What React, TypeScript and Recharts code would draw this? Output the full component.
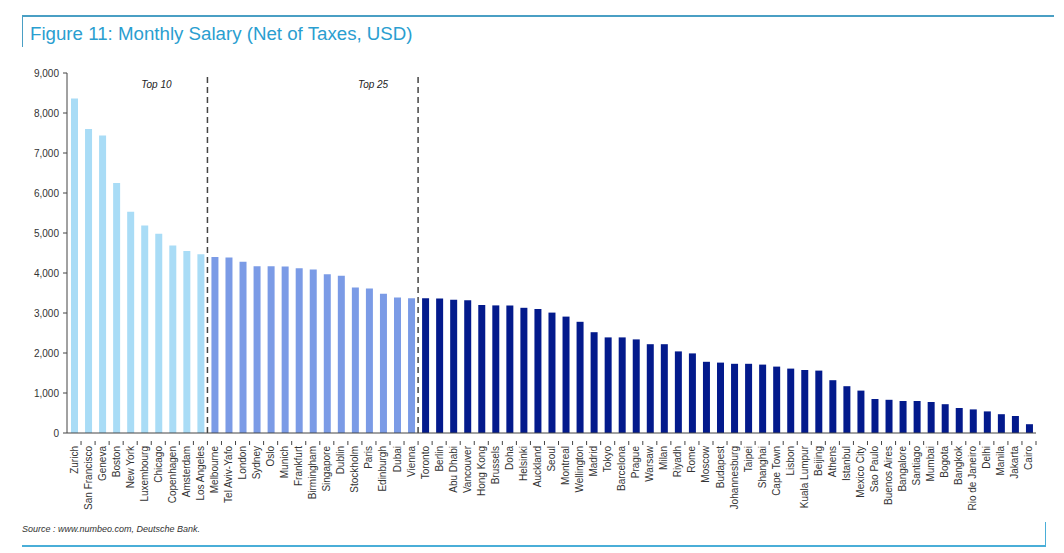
import React from "react";
import { BarChart, Bar, XAxis, YAxis, ReferenceLine, Cell } from "recharts";

const top10Cities = ["Zurich", "San Francisco", "Geneva", "Boston", "New York", "Luxembourg", "Chicago", "Copenhagen", "Amsterdam", "Los Angeles"];
const top10Values = [8360, 7600, 7440, 6250, 5530, 5190, 4980, 4690, 4550, 4470];

const top25Cities = ["Melbourne", "Tel Aviv-Yafo", "London", "Sydney", "Oslo", "Munich", "Frankfurt", "Birmingham", "Singapore", "Dublin", "Stockholm", "Paris", "Edinburgh", "Dubai", "Vienna"];
const top25Values = [4400, 4390, 4280, 4170, 4170, 4160, 4120, 4090, 3970, 3930, 3640, 3610, 3480, 3390, 3370];

const otherCities = ["Toronto", "Berlin", "Abu Dhabi", "Vancouver", "Hong Kong", "Brussels", "Doha", "Helsinki", "Auckland", "Seoul", "Montreal", "Wellington", "Madrid", "Tokyo", "Barcelona", "Prague", "Warsaw", "Milan", "Riyadh", "Rome", "Moscow", "Budapest", "Johannesburg", "Taipei", "Shanghai", "Cape Town", "Lisbon", "Kuala Lumpur", "Beijing", "Athens", "Istanbul", "Mexico City", "Sao Paulo", "Buenos Aires", "Bangalore", "Santiago", "Mumbai", "Bogota", "Bangkok", "Rio de Janeiro", "Delhi", "Manila", "Jakarta", "Cairo"];
const otherValues = [3370, 3360, 3330, 3320, 3200, 3190, 3190, 3130, 3100, 3010, 2910, 2780, 2520, 2390, 2390, 2340, 2220, 2220, 2040, 1990, 1780, 1760, 1730, 1730, 1710, 1660, 1610, 1575, 1560, 1320, 1170, 1060, 850, 830, 800, 800, 775, 720, 625, 590, 540, 470, 425, 220];

const yTicks = [0, 1000, 2000, 3000, 4000, 5000, 6000, 7000, 8000, 9000];
const groupColors = ["#a9dcf6", "#7b9be6", "#031a8c"];

const data = [
  ...top10Cities.map((c, i) => ({ city: c, value: top10Values[i], group: 0 })),
  ...top25Cities.map((c, i) => ({ city: c, value: top25Values[i], group: 1 })),
  ...otherCities.map((c, i) => ({ city: c, value: otherValues[i], group: 2 })),
];

const CHART_W = 1064;
const CHART_H = 553;
const MARGIN = { top: 73, right: 28, left: 0, bottom: 25 };
const Y_W = 67;
const PLOT_W = CHART_W - MARGIN.right - MARGIN.left - Y_W;
const HALF_BAND = PLOT_W / data.length / 2;
const FONT = "Liberation Sans, Arial, sans-serif";

const XTick = (props: any) => {
  const { x, y, payload } = props;
  return (
    <g transform={`translate(${x},${y})`}>
      <line x1={HALF_BAND} x2={HALF_BAND} y1={0} y2={4} stroke="#444" strokeWidth={1} />
      <text
        transform="rotate(-90)"
        x={-5}
        y={0}
        dy={3.5}
        textAnchor="end"
        fontSize={10}
        fill="#333"
        fontFamily={FONT}
      >
        {payload.value}
      </text>
    </g>
  );
};

const makeDivider = (text: string, dx: number) => (props: any) => {
  const { x1, y1, y2 } = props;
  const x = x1 + HALF_BAND;
  const top = Math.min(y1, y2);
  return (
    <g>
      <line x1={x} x2={x} y1={y1} y2={y2} stroke="#444" strokeWidth={1.5} strokeDasharray="6 4" />
      <text x={x + dx} y={top + 15} textAnchor="middle" fontSize={10} fontStyle="italic" fill="#222" fontFamily={FONT}>
        {text}
      </text>
    </g>
  );
};

export default function App() {
  return (
    <div style={{ position: "absolute", left: 0, top: 0, width: CHART_W, height: CHART_H, background: "#fff", fontFamily: FONT }}>
      <div style={{ position: "absolute", left: 22, top: 15, width: 1032, height: 0, borderTop: "2px solid #4a9fc4" }} />
      <div style={{ position: "absolute", left: 22, top: 15, width: 0, height: 32, borderLeft: "1px solid #4a9fc4" }} />
      <div style={{ position: "absolute", left: 30, top: 23, fontSize: 18.7, color: "#2a9ed0", whiteSpace: "nowrap", fontFamily: FONT }}>
        Figure 11: Monthly Salary (Net of Taxes, USD)
      </div>
      <div style={{ position: "absolute", left: 0, top: 0 }}>
        <BarChart width={CHART_W} height={CHART_H} data={data} margin={MARGIN}>
          <XAxis
            dataKey="city"
            interval={0}
            height={95}
            tick={<XTick />}
            tickLine={false}
            axisLine={{ stroke: "#444" }}
          />
          <YAxis
            type="number"
            width={Y_W}
            domain={[0, 9000]}
            ticks={yTicks}
            tickFormatter={(v: number) => v.toLocaleString("en-US")}
            tick={{ fontSize: 10, fill: "#333", fontFamily: FONT }}
            tickSize={4}
            tickMargin={4}
            tickLine={{ stroke: "#444" }}
            axisLine={{ stroke: "#444" }}
          />
          <Bar dataKey="value" barSize={7} fill="#031a8c" isAnimationActive={false}>
            {data.map((d, i) => (
              <Cell key={`c-${i}`} fill={groupColors[d.group]} />
            ))}
          </Bar>
          <ReferenceLine
            x={top10Cities[top10Cities.length - 1]}
            shape={makeDivider("Top 10", -51)}
          />
          <ReferenceLine
            x={top25Cities[top25Cities.length - 1]}
            shape={makeDivider("Top 25", -45)}
          />
        </BarChart>
      </div>
      <div style={{ position: "absolute", left: 22, top: 524, fontSize: 9, fontStyle: "italic", color: "#333", fontFamily: FONT }}>
        Source : www.numbeo.com, Deutsche Bank.
      </div>
      <div style={{ position: "absolute", left: 22, top: 545, width: 1024, height: 0, borderTop: "2px solid #4aaed8" }} />
      <div style={{ position: "absolute", left: 1045, top: 522, width: 0, height: 24, borderLeft: "1px solid #4aaed8" }} />
    </div>
  );
}
